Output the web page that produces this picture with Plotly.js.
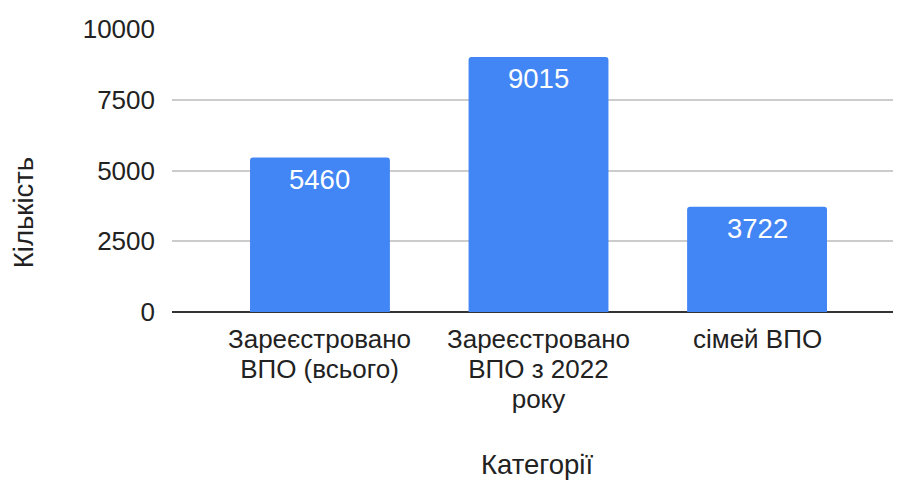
<!DOCTYPE html>
<html><head><meta charset="utf-8">
<script src="https://cdn.plot.ly/plotly-3.0.1.min.js"></script>
<style>html,body{margin:0;padding:0;background:#fff}#c{width:897px;height:480px}</style>
</head><body><div id="c"></div>
<script>
const categories = ["Зареєстровано ВПО (всього)", "Зареєстровано ВПО з 2022 року", "сімей ВПО"];
const categoryLines = [["Зареєстровано", "ВПО (всього)"], ["Зареєстровано", "ВПО з 2022", "року"], ["сімей ВПО"]];
const values = [5460, 9015, 3722];
const yTicks = [0, 2500, 5000, 7500, 10000];
const xTitle = "Категорії";
const yTitle = "Кількість";

const font = "Arial, 'Liberation Sans', sans-serif";
const labelAnns = categories.map((c, i) => ({
  x: c, y: values[i], xref: "x", yref: "y",
  text: String(values[i]), showarrow: false,
  xanchor: "center", yanchor: "middle", yshift: -22,
  font: {family: font, size: 27.5, color: "#ffffff"}
}));
// line spacing of 30px (1.3em of 23.1px) with glyphs drawn at 26px
const catAnns = categories.map((c, i) => ({
  x: c, y: 0, xref: "x", yref: "y",
  text: categoryLines[i].map(l => '<span style="font-size:26px">' + l + '</span>').join('<br>'),
  showarrow: false,
  xanchor: "center", yanchor: "top", yshift: -10,
  font: {family: font, size: 23.1, color: "#222"}
}));
Plotly.newPlot("c", [{
  type: "bar",
  x: categories,
  y: values,
  marker: {color: "#4285F4", cornerradius: 3},
  width: 0.64,
  hoverinfo: "none"
}], {
  width: 897, height: 480,
  margin: {l: 172, r: 4, t: 29, b: 168},
  paper_bgcolor: "#fff", plot_bgcolor: "#fff",
  font: {family: font, size: 26, color: "#222"},
  showlegend: false,
  xaxis: {
    type: "category",
    range: [-0.677, 2.622],
    showgrid: false, zeroline: false, showline: false,
    ticks: "", showticklabels: false
  },
  yaxis: {
    range: [0, 10000],
    tickvals: yTicks,
    ticktext: yTicks.map(String),
    showgrid: true, gridcolor: "#cccccc", gridwidth: 2,
    zeroline: true, zerolinecolor: "#333333", zerolinewidth: 2,
    showline: false, ticks: "",
    ticklabelstandoff: 16,
    tickfont: {family: font, size: 26, color: "#222"}
  },
  annotations: labelAnns.concat(catAnns, [
    {text: xTitle, xref: "paper", yref: "paper", x: 0.506, y: -0.54, xanchor: "center", yanchor: "middle", showarrow: false, font: {family: font, size: 27.5, color: "#222"}},
    {text: yTitle, xref: "paper", yref: "paper", x: -0.205, y: 0.35, xanchor: "center", yanchor: "middle", textangle: -90, showarrow: false, font: {family: font, size: 27.5, color: "#222"}}
  ])
}, {displayModeBar: false, staticPlot: true});
</script></body></html>
